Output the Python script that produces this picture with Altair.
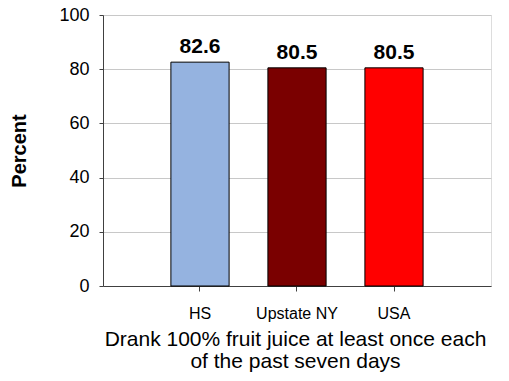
import altair as alt
import pandas as pd

categories = ["HS", "Upstate NY", "USA"]
values = [82.6, 80.5, 80.5]
colors = ["#95B3E0", "#7A0000", "#FF0000"]
y_ticks = [0, 20, 40, 60, 80, 100]
x_title = ["Drank 100% fruit juice at least once each", "of the past seven days"]
y_title = "Percent"

df = pd.DataFrame({"cat": categories, "val": values, "label": [f"{v:.1f}" for v in values]})

FONT = "Liberation Sans, Arial, sans-serif"

x = alt.X(
    "cat:N",
    sort=categories,
    scale=alt.Scale(paddingInner=0.4, paddingOuter=0.7),
    axis=alt.Axis(
        title=x_title,
        labelAngle=0,
        labelFont=FONT,
        labelFontSize=16,
        labelColor="black",
        labelPadding=14,
        tickSize=5,
        tickColor="#404040",
        domainColor="#404040",
        titleFont=FONT,
        titleFontSize=21,
        titleFontWeight="normal",
        titleColor="black",
        titleBaseline="top",
        titleY=42,
        titleX=192,
        titleLineHeight=22,
        grid=False,
    ),
)

y = alt.Y(
    "val:Q",
    scale=alt.Scale(domain=[0, 100]),
    axis=alt.Axis(
        values=y_ticks,
        title=y_title,
        labelFont=FONT,
        labelFontSize=18,
        labelColor="black",
        labelPadding=10,
        tickSize=4,
        tickColor="#404040",
        domainColor="#404040",
        gridColor="#C8C8C8",
        titleFont=FONT,
        titleFontSize=20,
        titleFontWeight="bold",
        titleColor="black",
        titleBaseline="middle",
        titleX=-84,
    ),
)

bars = alt.Chart(df).mark_bar(stroke="black", strokeWidth=1).encode(
    x=x,
    y=y,
    color=alt.Color("cat:N", scale=alt.Scale(domain=categories, range=colors), legend=None),
)

labels = alt.Chart(df).mark_text(
    font=FONT, fontSize=21, fontWeight="bold", color="black", baseline="alphabetic", dy=-9
).encode(x=alt.X("cat:N", sort=categories), y="val:Q", text="label:N")

chart = (
    alt.layer(bars, labels)
    .properties(
        width=388,
        height=271,
        autosize=alt.AutoSizeParams(type="none"),
        padding={"left": 95, "top": 7, "right": 10, "bottom": 86},
    )
    .configure_view(stroke="#808080", strokeWidth=1)
    .configure(background="white")
)

chart.save("out.html", embed_options={"renderer": "svg", "actions": False})
